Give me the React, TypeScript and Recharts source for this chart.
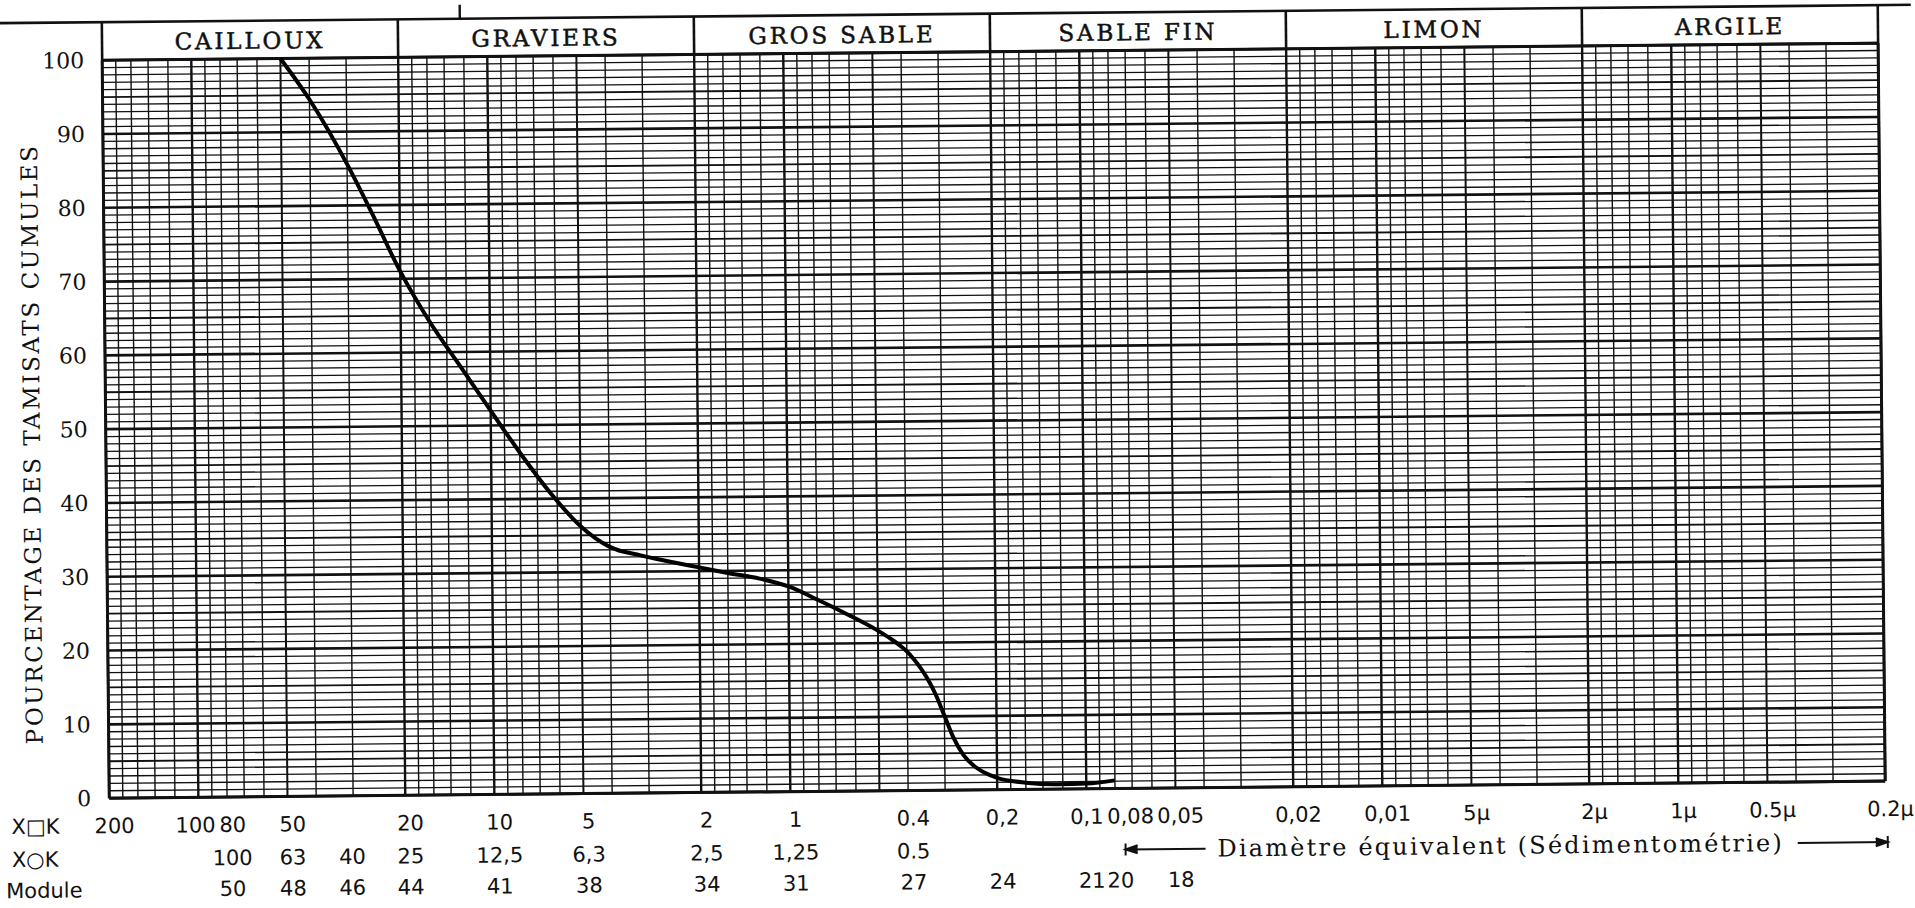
import React from 'react';
import { LineChart, Line, XAxis, YAxis, ReferenceLine } from 'recharts';

// ---- Curve data: sieve size (mm) -> cumulative % passing ----
const grainSizeMm = [50, 40, 30, 25, 20, 16, 12.5, 10, 8, 6.3, 5, 4, 3.15, 2.5, 2, 1.6, 1.25, 1, 0.8, 0.63, 0.5, 0.45, 0.42, 0.4, 0.38, 0.36, 0.34, 0.32, 0.3, 0.28, 0.26, 0.24, 0.22, 0.2, 0.16, 0.125, 0.1, 0.08];
const percentPassing = [100, 94.4, 85.6, 79.2, 71.0, 64.2, 57.8, 52.0, 46.3, 40.7, 36.2, 33.4, 32.2, 31.3, 30.5, 29.7, 28.9, 27.8, 26.0, 23.9, 21.7, 20.5, 19.6, 18.85, 17.85, 16.6, 15.0, 12.9, 10.1, 7.1, 4.8, 3.3, 2.3, 1.6, 0.9, 0.65, 0.7, 1.1];

// ---- Soil classes (header band) ----
const classBounds = [200, 20, 2, 0.2, 0.02, 0.002, 0.0002];
const classNames = ['CAILLOUX', 'GRAVIERS', 'GROS SABLE', 'SABLE FIN', 'LIMON', 'ARGILE'];

// ---- Y axis ----
const yTicks = [0, 10, 20, 30, 40, 50, 60, 70, 80, 90, 100];

// ---- Bottom rows ----
const squareSieveTicks = [200, 100, 80, 50, 20, 10, 5, 2, 1, 0.4, 0.2, 0.1, 0.08, 0.05, 0.02, 0.01, 0.005, 0.002, 0.001, 0.0005, 0.0002];
const squareSieveLabels = ['200', '100', '80', '50', '20', '10', '5', '2', '1', '0.4', '0,2', '0,1', '0,08', '0,05', '0,02', '0,01', '5\u00b5', '2\u00b5', '1\u00b5', '0.5\u00b5', '0.2\u00b5'];
const roundHoleTicks = [80, 50, 31.5, 20, 10, 5, 2, 1, 0.4];
const roundHoleLabels = ['100', '63', '40', '25', '12,5', '6,3', '2,5', '1,25', '0.5'];
const moduleTicks = [80, 50, 31.5, 20, 10, 5, 2, 1, 0.4, 0.2, 0.1, 0.08, 0.05];
const moduleLabels = ['50', '48', '46', '44', '41', '38', '34', '31', '27', '24', '21', '20', '18'];
const sedimentStart = 0.08;
const sedimentEnd = 0.0002;
const sedimentLabel = 'Diamètre équivalent (Sédimentométrie)';

// ---- Graph paper ----
const gridMantissas = [1, 1.2, 1.4, 1.6, 1.8, 2, 3, 4, 5, 6, 7, 8, 9];
const gridDecades = [0.0001, 0.001, 0.01, 0.1, 1, 10, 100];
const percentLines = Array.from({ length: 101 }, (_, i) => i);

const X_DOMAIN: [number, number] = [0.0002, 200];

const data = grainSizeMm.map((d, i) => ({ d, p: percentPassing[i] }));

const near = (a: number, b: number) => Math.abs(a - b) <= Math.abs(b) * 1e-9;
const idxOf = (arr: number[], v: number) => arr.findIndex((t) => near(t, v));

const verticalLines = gridDecades
  .flatMap((dec) => gridMantissas.map((m) => ({ v: +(m * dec).toPrecision(8), major: m === 1 || m === 2, mid: m === 5 })))
  .filter((g) => g.v >= X_DOMAIN[0] - 1e-12 && g.v <= X_DOMAIN[1] + 1e-9);

const headerMids = classBounds.slice(0, -1).map((b, i) => Math.sqrt(b * classBounds[i + 1]));
const headerTicks = [...classBounds, ...headerMids];
const sedimentMid = Math.sqrt(sedimentStart * sedimentEnd);
const bottomTicks = Array.from(new Set([...squareSieveTicks, ...roundHoleTicks, ...moduleTicks, sedimentMid])).sort((a, b) => b - a);

const SERIF = '"DejaVu Serif", serif';
const SANS = '"DejaVu Sans", sans-serif';
const INK = '#111';

function HeaderTick(props: any) {
  const { x, y, payload } = props;
  const v = payload.value;
  const b = idxOf(classBounds, v);
  if (b >= 0) {
    return <line x1={x} x2={x} y1={y} y2={y - 38} stroke={INK} strokeWidth={2.6} />;
  }
  const m = idxOf(headerMids, v);
  if (m < 0) return null;
  return (
    <text x={x} y={y - 18} textAnchor="middle" dominantBaseline="central" fontFamily={SERIF} fontSize={23} letterSpacing={2.8} fill={INK} stroke={INK} strokeWidth={0.5}>
      {classNames[m]}
    </text>
  );
}

// tight neighbours in the first row are pushed apart
function rowOnePlacement(v: number, x: number): { x: number; anchor: 'start' | 'middle' | 'end' } {
  if (near(v, 100) || near(v, 0.1)) return { x: x + 17, anchor: 'end' };
  if (near(v, 80) || near(v, 0.08)) return { x: x - 8, anchor: 'start' };
  return { x: x + 5, anchor: 'middle' };
}

function BottomTick(props: any) {
  const { x, y, payload } = props;
  const v = payload.value;
  const r1 = idxOf(squareSieveTicks, v);
  const r2 = idxOf(roundHoleTicks, v);
  const r3 = idxOf(moduleTicks, v);
  const y1 = y + 28;
  const y2 = y + 61;
  const y3 = y + 92;
  const common = { dominantBaseline: 'central' as const, fontFamily: SANS, fontSize: 21, fill: INK };
  const p1 = rowOnePlacement(v, x);
  return (
    <g>
      {r1 >= 0 && <text x={p1.x} y={y1} textAnchor={p1.anchor} {...common}>{squareSieveLabels[r1]}</text>}
      {r2 >= 0 && <text x={x + 5} y={y2} textAnchor="middle" {...common}>{roundHoleLabels[r2]}</text>}
      {r3 >= 0 && <text x={x + 5} y={y3} textAnchor="middle" {...common}>{moduleLabels[r3]}</text>}
      {near(v, sedimentMid) && (
        <text x={x} y={y2} textAnchor="middle" dominantBaseline="central" fontFamily={SERIF} fontSize={24} letterSpacing={2.2} fill={INK}>
          {sedimentLabel}
        </text>
      )}
      {near(v, sedimentStart) && (
        <g stroke={INK} strokeWidth={2} fill="none">
          <line x1={x + 10} x2={x + 10} y1={y2 - 6} y2={y2 + 6} />
          <line x1={x + 10} x2={x + 90} y1={y2} y2={y2} />
          <path d={`M${x + 22},${y2 - 4} L${x + 10},${y2} L${x + 22},${y2 + 4}`} fill={INK} />
        </g>
      )}
      {near(v, sedimentEnd) && (
        <g stroke={INK} strokeWidth={2} fill="none">
          <line x1={x + 2} x2={x + 2} y1={y2 - 6} y2={y2 + 6} />
          <line x1={x - 88} x2={x + 2} y1={y2} y2={y2} />
          <path d={`M${x - 10},${y2 - 4} L${x + 2},${y2} L${x - 10},${y2 + 4}`} fill={INK} />
        </g>
      )}
    </g>
  );
}

function YTitle(props: any) {
  const vb = props.viewBox || { x: 0, y: 52, width: 106, height: 738 };
  const cx = vb.x + 32;
  const cy = vb.y + vb.height / 2 + 14;
  return (
    <text x={cx} y={cy} transform={`rotate(-90 ${cx} ${cy})`} textAnchor="middle" dominantBaseline="central" fontFamily={SERIF} fontSize={23} letterSpacing={2.6} fill={INK}>
      POURCENTAGE DES TAMISATS CUMULES
    </text>
  );
}

export default function App() {
  return (
    <div style={{ position: 'absolute', left: 0, top: 0, width: 1915, height: 908, background: '#fff', overflow: 'hidden' }}>
      <div style={{ position: 'absolute', left: 0, top: 0, width: 1915, height: 908, transform: 'rotate(-0.55deg)', transformOrigin: '957px 454px' }}>
        <LineChart width={1915} height={908} data={data} margin={{ top: 14, right: 33, bottom: 8, left: 0 }}>
          <XAxis
            xAxisId="bottom"
            dataKey="d"
            type="number"
            scale="log"
            domain={X_DOMAIN}
            allowDataOverflow
            reversed
            ticks={bottomTicks}
            interval={0}
            height={110}
            tick={<BottomTick />}
            tickLine={false}
            axisLine={false}
            tickSize={0}
            tickMargin={0}
          />
          <XAxis
            xAxisId="top"
            orientation="top"
            dataKey="d"
            type="number"
            scale="log"
            domain={X_DOMAIN}
            allowDataOverflow
            reversed
            ticks={headerTicks}
            interval={0}
            height={38}
            tick={<HeaderTick />}
            tickLine={false}
            axisLine={false}
            tickSize={0}
            tickMargin={0}
          />
          <YAxis
            type="number"
            domain={[0, 100]}
            ticks={yTicks}
            interval={0}
            width={106}
            tickLine={false}
            axisLine={false}
            tickSize={0}
            tickMargin={18}
            tick={{ fontFamily: SERIF, fontSize: 22, fill: INK }}
            label={<YTitle />}
          />
          {percentLines.map((v) => (
            <ReferenceLine
              key={`h${v}`}
              xAxisId="bottom"
              y={v}
              stroke={INK}
              strokeWidth={v % 10 === 0 ? 2.6 : v % 5 === 0 ? 1.8 : 1.3}
            />
          ))}
          {verticalLines.map((g) => (
            <ReferenceLine
              key={`v${g.v}`}
              xAxisId="bottom"
              x={g.v}
              stroke={INK}
              strokeWidth={g.major ? 2.4 : g.mid ? 2 : 1.4}
            />
          ))}
          <ReferenceLine xAxisId="bottom" x={X_DOMAIN[1]} stroke={INK} strokeWidth={3} />
          <ReferenceLine xAxisId="bottom" x={X_DOMAIN[0]} stroke={INK} strokeWidth={3} />
          <ReferenceLine xAxisId="bottom" y={0} stroke={INK} strokeWidth={3} />
          <ReferenceLine xAxisId="bottom" y={100} stroke={INK} strokeWidth={3} />
          <Line xAxisId="top" dataKey="p" type="monotone" stroke="none" dot={false} activeDot={false} isAnimationActive={false} legendType="none" />
          <Line xAxisId="bottom" dataKey="p" type="monotone" stroke="#000" strokeWidth={4} dot={false} activeDot={false} isAnimationActive={false} />
        </LineChart>
        <svg width={1915} height={908} style={{ position: 'absolute', left: 0, top: 0, pointerEvents: 'none' }}>
          <line x1={-20} x2={1935} y1={14} y2={14} stroke={INK} strokeWidth={2.6} />
          <line x1={464} x2={464} y1={-20} y2={14} stroke={INK} strokeWidth={2.4} />
          <text x={8} y={818} dominantBaseline="central" fontFamily={SANS} fontSize={21} fill={INK}>X□K</text>
          <text x={8} y={851} dominantBaseline="central" fontFamily={SANS} fontSize={21} fill={INK}>X○K</text>
          <text x={2} y={882} dominantBaseline="central" fontFamily={SANS} fontSize={21} fill={INK}>Module</text>
        </svg>
      </div>
    </div>
  );
}
